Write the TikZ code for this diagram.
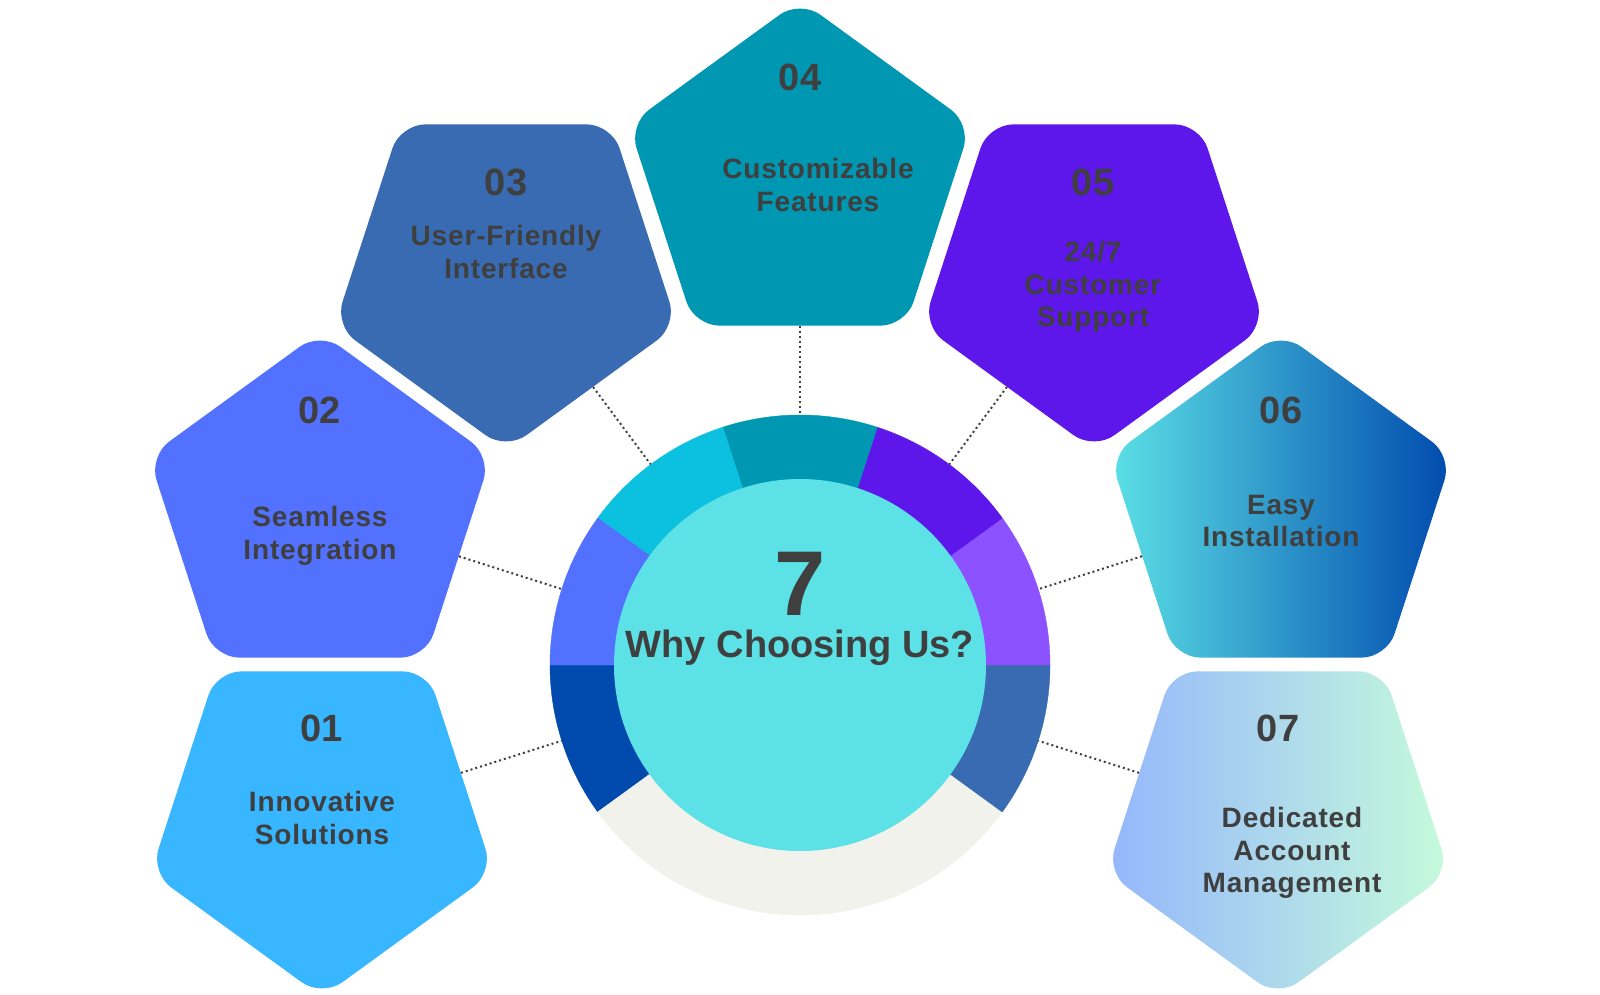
\documentclass[tikz,border=0pt]{standalone}
\usepackage{fontspec}
\setmainfont{Liberation Sans}
\usetikzlibrary{shapes.geometric}
\definecolor{txt}{HTML}{3F3F3F}
\definecolor{cA}{HTML}{38B6FF}
\definecolor{cB}{HTML}{5271FF}
\definecolor{cC}{HTML}{386BB2}
\definecolor{cD}{HTML}{0097B2}
\definecolor{cE}{HTML}{5E17EB}
\definecolor{cFl}{HTML}{5CE1E6}
\definecolor{cFr}{HTML}{004AAD}
\definecolor{cGl}{HTML}{94B6FC}
\definecolor{cGr}{HTML}{C6FBDB}
\definecolor{rDark}{HTML}{004AAD}
\definecolor{rGrey}{HTML}{F1F2EB}
\definecolor{rLilac}{HTML}{8C52FF}
\definecolor{rCyan}{HTML}{0CC0DF}
\definecolor{hubc}{HTML}{5CE1E6}
\begin{document}
\begin{tikzpicture}[x=1pt,y=1pt,
  pent/.style={regular polygon, regular polygon sides=5, minimum size=360pt, inner sep=0pt, rounded corners=25pt},
  pdown/.style={pent, shape border rotate=180},
  num/.style={text=txt, font=\fontsize{38}{40}\selectfont\bfseries},
  lbl/.style={text=txt, align=center, font=\fontsize{28}{32.5}\selectfont\bfseries\addfontfeature{LetterSpace=3}},
  conn/.style={draw=txt, line width=2pt, dash pattern=on 2pt off 3pt},
  ]
\useasboundingbox (0,0) rectangle (1600,-995);
\fill[white] (0,0) rectangle (1600,-995);

% pentagons
\node[pdown, fill=cA] (p1) at (322,-817) {};
\node[pent, fill=cB] (p2) at (320,-512) {};
\node[pdown, fill=cC] (p3) at (506,-270) {};
\node[pent, fill=cD] (p4) at (800,-180) {};
\node[pdown, fill=cE] (p5) at (1094,-270) {};
\node[pent, left color=cFl, right color=cFr] (p6) at (1281,-512) {};
\node[pdown, left color=cGl, right color=cGr] (p7) at (1278,-817) {};

% ring and hub
\node[circle, minimum size=500pt, inner sep=0pt] (ring) at (800,-665) {};
\foreach \a/\b/\c in {180/216/rDark, 216/324/rGrey, 324/360/cC, 0/36/rLilac, 36/72/cE, 72/108/cD, 108/144/rCyan, 144/180/cB}{
  \filldraw[fill=\c, draw=\c, line width=0.4pt] (ring.center) -- ++(\a:250) arc[start angle=\a, end angle=\b, radius=250] -- cycle;
}
\node[circle, fill=hubc, minimum size=372pt, inner sep=0pt] (hub) at (ring.center) {};

% connectors
\foreach \p in {p1,p2,p3,p4,p5,p6,p7}{
  \draw[conn] (\p) -- (ring);
}

% numbers
\node[num] (n1) at (322,-728) {01};
\node[num] (n2) at (320,-410) {02};
\node[num] (n3) at (506,-182) {03};
\node[num] (n4) at (800,-77) {04};
\node[num] (n5) at (1093,-182) {05};
\node[num] (n6) at (1281,-410) {06};
\node[num] (n7) at (1278,-728) {07};

% labels
\node[lbl] (l1) at (322,-818) {Innovative\\Solutions};
\node[lbl] (l2) at (320,-536) {Seamless\\Integration};
\node[lbl] (l3) at (506,-252) {User-Friendly\\Interface};
\node[lbl] (l4) at (818,-185) {Customizable\\Features};
\node[lbl] (l5) at (1093,-287) {24/7\\Customer\\Support};
\node[lbl] (l6) at (1281,-521) {Easy\\Installation};
\node[lbl] (l7) at (1292,-853) {Dedicated\\Account\\Management};

% hub text
\node[text=txt, font=\fontsize{92}{92}\selectfont\bfseries] (seven) at (800,-584) {7};
\node[text=txt, font=\fontsize{38}{40}\selectfont\bfseries] (title) at (800,-648) {Why Choosing Us?};
\end{tikzpicture}
\end{document}
